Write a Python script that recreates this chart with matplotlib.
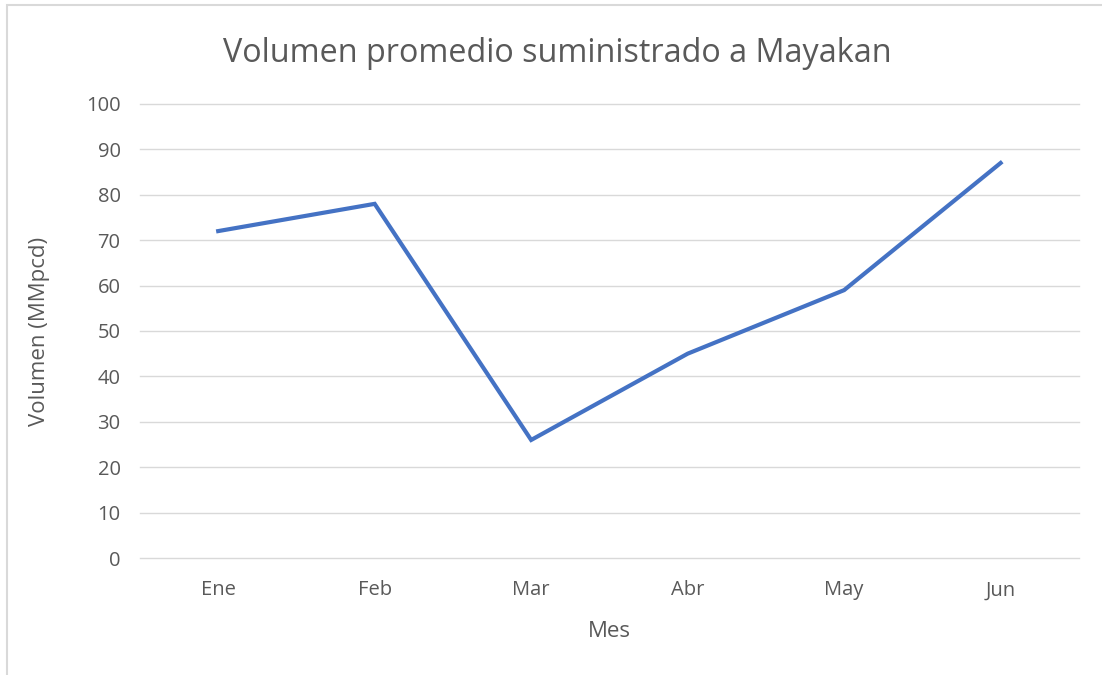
import matplotlib.pyplot as plt
from matplotlib.patches import Rectangle

meses = ["Ene", "Feb", "Mar", "Abr", "May", "Jun"]
volumen = [72, 78, 26, 45, 59, 87]
y_ticks = list(range(0, 101, 10))

plt.rcParams['font.family'] = ['Open Sans', 'DejaVu Sans']
gris = "#595959"

fig = plt.figure(figsize=(11.02, 6.75), dpi=100)
ax = fig.add_axes([0.127, 0.1733, 0.852, 0.6727])

x = list(range(len(meses)))
ax.plot(x, volumen, color="#4472C4", linewidth=3, solid_joinstyle="miter")

ax.set_xlim(-0.5, len(meses) - 0.5)
ax.set_ylim(0, 100)
ax.set_yticks(y_ticks)
ax.set_xticks(x)
ax.set_xticklabels(meses)
ax.grid(axis="y", color="#d9d9d9", linewidth=1)
for gl in ax.get_ygridlines():
    gl.set_clip_on(False)
ax.set_axisbelow(True)
for s in ax.spines.values():
    s.set_visible(False)
ax.tick_params(length=0, labelsize=14.5, colors=gris, pad=14)
ax.tick_params(axis="x", pad=16)

ax.set_xlabel("Mes", fontsize=16, color=gris, labelpad=15)
ax.set_ylabel("Volumen (MMpcd)", fontsize=16, color=gris, labelpad=26)
fig.text(0.5055, 0.92, "Volumen promedio suministrado a Mayakan",
         fontsize=23.3, color=gris, ha="center", va="center")

fig.patches.append(Rectangle((7 / 1102, -0.1), 1.2, 1.1 - 5 / 675,
                             transform=fig.transFigure, fill=False,
                             edgecolor="#d9d9d9", linewidth=1.5))

fig.savefig("out.png", dpi=100)
